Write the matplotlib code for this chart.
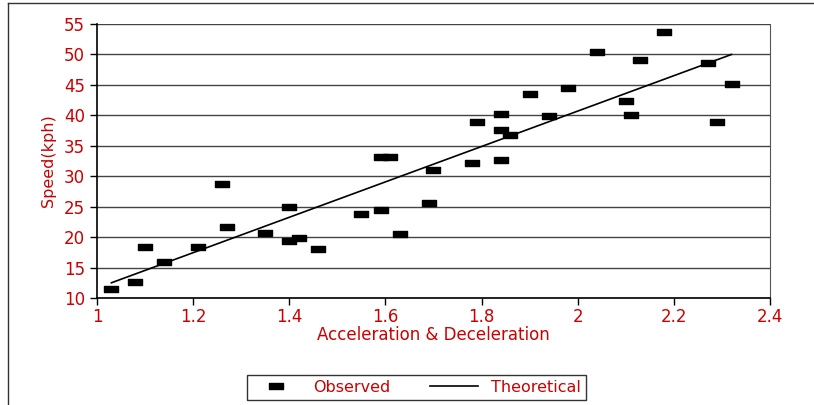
import matplotlib
matplotlib.use('Agg')
import matplotlib.pyplot as plt
import numpy as np
from matplotlib.path import Path
from matplotlib.lines import Line2D

# observed points (acceleration & deceleration, speed in kph)
accel = [1.03, 1.08, 1.10, 1.14, 1.21, 1.26, 1.27, 1.35, 1.40, 1.40, 1.42, 1.46,
         1.55, 1.59, 1.59, 1.61, 1.63, 1.69, 1.70, 1.78, 1.79, 1.84, 1.84, 1.84,
         1.86, 1.90, 1.94, 1.98, 2.04, 2.10, 2.11, 2.13, 2.18, 2.27, 2.29, 2.32]
speed = [11.5, 12.6, 18.3, 15.9, 18.3, 28.7, 21.7, 20.7, 24.9, 19.4, 19.9, 18.0,
         23.8, 24.4, 33.2, 33.2, 20.5, 25.6, 31.0, 32.2, 38.9, 40.2, 37.6, 32.7,
         36.8, 43.5, 39.9, 44.5, 50.4, 42.3, 40.1, 49.1, 53.7, 48.6, 38.9, 45.2]

# theoretical line end points
accel_theory = [1.03, 2.32]
speed_theory = [12.5, 50.0]

red = '#CC0000'
rect = Path([(-1, -0.45), (1, -0.45), (1, 0.45), (-1, 0.45), (-1, -0.45)],
            [Path.MOVETO, Path.LINETO, Path.LINETO, Path.LINETO, Path.CLOSEPOLY])

fig = plt.figure(figsize=(8.14, 4.05), dpi=100)
ax = fig.add_axes([97/814, 1 - 298/405, (770 - 97)/814, (298 - 24)/405])

ax.plot(accel, speed, linestyle='none', marker=rect, markersize=9.5,
        color='black', label='Observed', zorder=3)
ax.plot(accel_theory, speed_theory, color='black', linewidth=1.2,
        label='Theoretical', zorder=2)

ax.set_xlim(1, 2.4)
ax.set_ylim(10, 55)
ax.set_xticks(np.arange(1, 2.41, 0.2))
ax.set_xticklabels(['1', '1.2', '1.4', '1.6', '1.8', '2', '2.2', '2.4'])
ax.set_yticks(np.arange(10, 56, 5))
ax.yaxis.grid(True, color='#444444', linewidth=1)
ax.set_axisbelow(True)

for s in ['left', 'bottom']:
    ax.spines[s].set_color('black')
    ax.spines[s].set_linewidth(1.2)
ax.spines['right'].set_color('#555555')
ax.spines['top'].set_visible(False)

ax.tick_params(axis='both', colors='black', labelcolor=red, labelsize=12,
               length=5, width=1, direction='out')
ax.tick_params(axis='x', pad=2)
ax.set_xlabel('Acceleration & Deceleration', color=red, fontsize=12, labelpad=0)
ax.set_ylabel('Speed(kph)', color=red, fontsize=11.5, labelpad=6)

# outer chart border
fig.add_artist(Line2D([8/814, 1], [1 - 3/405, 1 - 3/405], color='#333333', linewidth=1))
fig.add_artist(Line2D([8/814, 8/814], [0, 1 - 3/405], color='#333333', linewidth=1))

leg = fig.legend(loc='center', bbox_to_anchor=(416.5/814, 1 - 387.5/405), ncol=2,
                 frameon=True, fancybox=False, edgecolor='black', fontsize=11.5,
                 handlelength=3, columnspacing=2.5, borderpad=0.3)
leg.get_frame().set_linewidth(1)
for t in leg.get_texts():
    t.set_color(red)

fig.savefig('out.png', dpi=100)
